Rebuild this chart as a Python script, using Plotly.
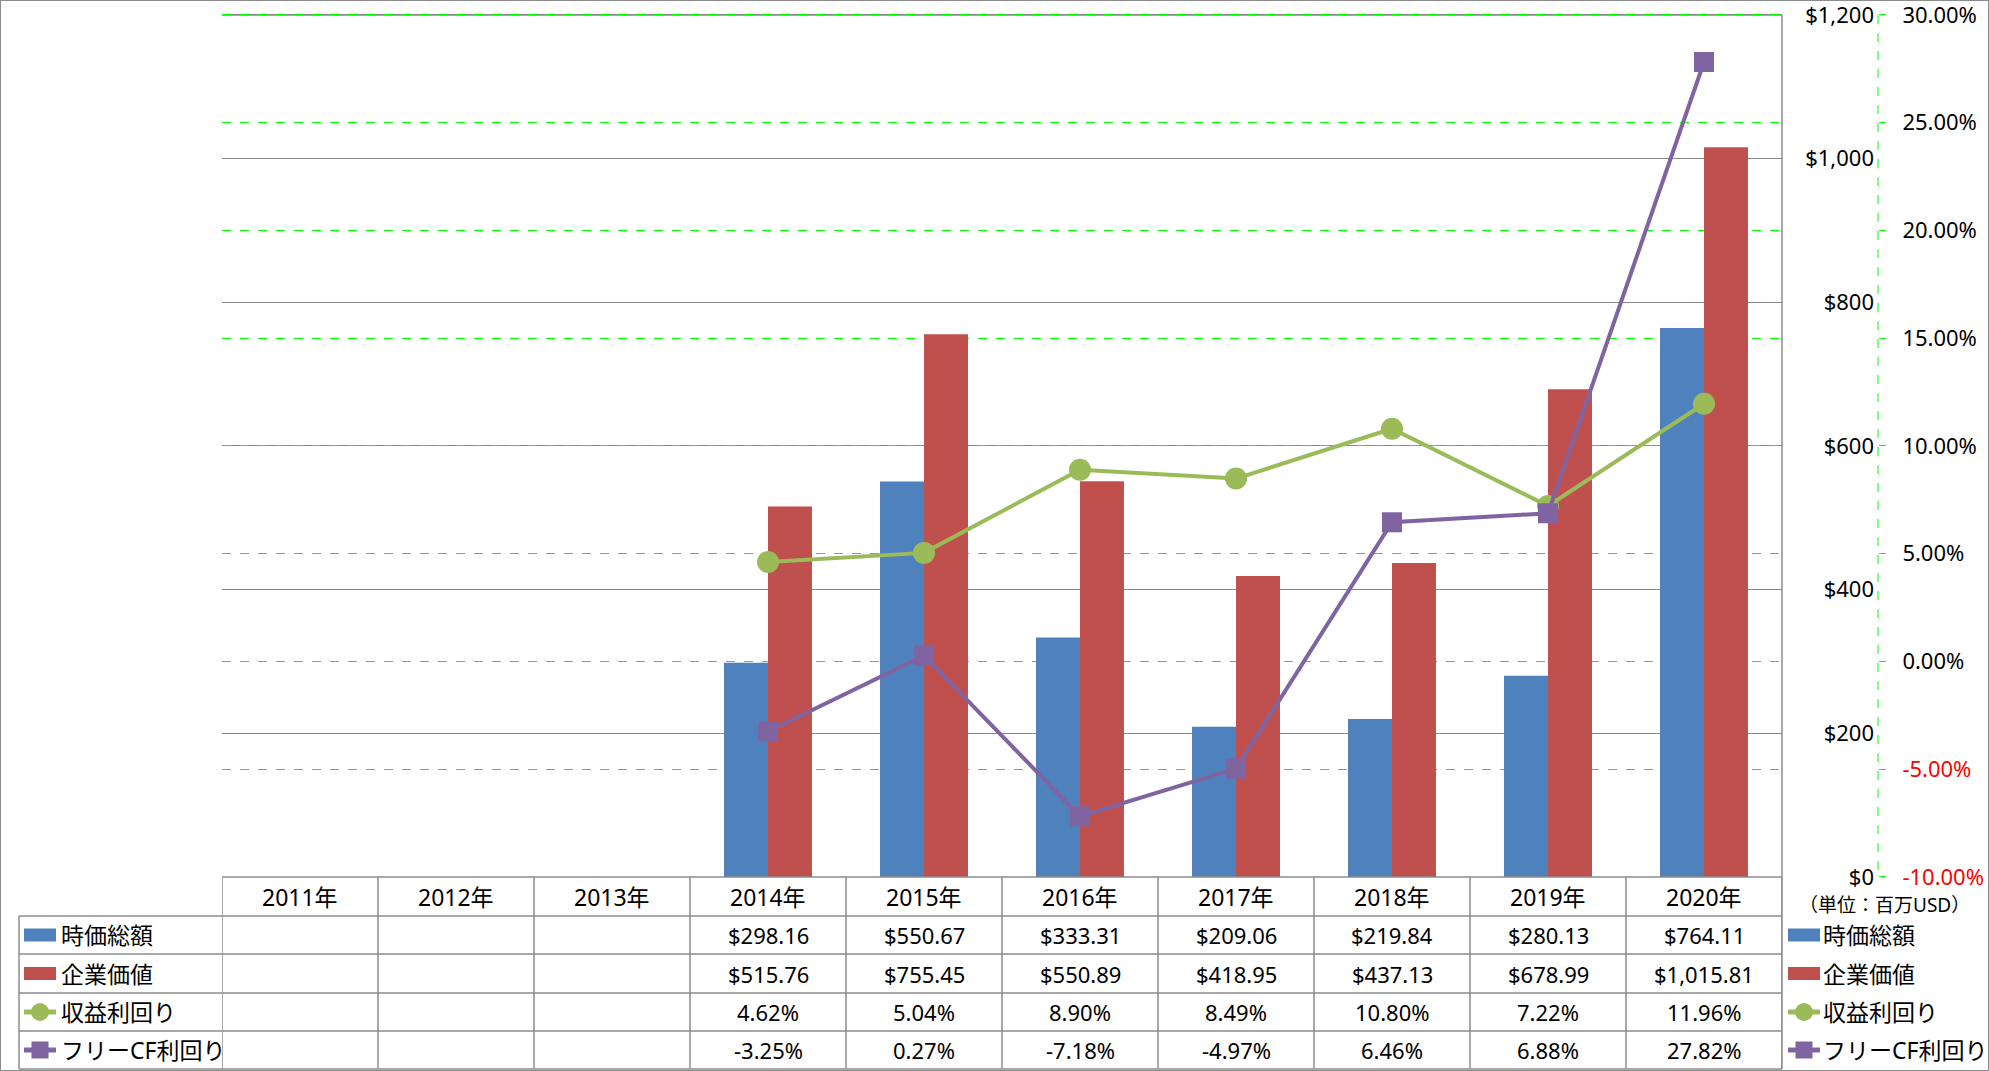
import plotly.graph_objects as go

# data
years = ["2011年", "2012年", "2013年", "2014年", "2015年", "2016年", "2017年", "2018年", "2019年", "2020年"]
market_cap = [None, None, None, 298.16, 550.67, 333.31, 209.06, 219.84, 280.13, 764.11]
enterprise_value = [None, None, None, 515.76, 755.45, 550.89, 418.95, 437.13, 678.99, 1015.81]
earnings_yield = [None, None, None, 4.62, 5.04, 8.90, 8.49, 10.80, 7.22, 11.96]
fcf_yield = [None, None, None, -3.25, 0.27, -7.18, -4.97, 6.46, 6.88, 27.82]

usd_ticks = [0, 200, 400, 600, 800, 1000, 1200]
pct_ticks = [-10, -5, 0, 5, 10, 15, 20, 25, 30]
unit_label = "（単位：百万USD）"

BLUE = "#4F81BD"
RED = "#C0504D"
GREEN = "#9BBB59"
PURPLE = "#8064A2"
GRID = "#888888"
LINE = "#8C8C8C"
FONT = "Noto Sans, Noto Sans CJK JP"

W, H = 1989, 1071


def px(x):
    return x / W


def py(y):
    return 1 - y / H


def money(v):
    return "" if v is None else f"${v:,.2f}"


def pct(v):
    return "" if v is None else f"{v:.2f}%"


def frac(vals):
    return [None if v is None else v / 100 for v in vals]


fig = go.Figure()
fig.add_bar(x=years, y=market_cap, name="時価総額", marker_color=BLUE, marker_line_width=0, yaxis="y")
fig.add_bar(x=years, y=enterprise_value, name="企業価値", marker_color=RED, marker_line_width=0, yaxis="y")
fig.add_scatter(x=years, y=frac(earnings_yield), name="収益利回り", yaxis="y2", mode="lines+markers",
                line=dict(color=GREEN, width=4), marker=dict(symbol="circle", size=22, color=GREEN))
fig.add_scatter(x=years, y=frac(fcf_yield), name="フリーCF利回り", yaxis="y2", mode="lines+markers",
                line=dict(color=PURPLE, width=4), marker=dict(symbol="square", size=20, color=PURPLE))

# plot area / table geometry in pixels
left_px, right_px = 222, 1782
top_px, bottom_px = 15, 877
row_lines = [877, 916, 954, 993, 1031, 1069]
axis_x = 1878

# the axes run a little past the top tick so the top grid line is kept
usd_top = 1210
pct_top = (pct_ticks[0] + (pct_ticks[-1] - pct_ticks[0]) * usd_top / usd_ticks[-1]) / 100
dom_top = bottom_px - (bottom_px - top_px) * usd_top / usd_ticks[-1]

shapes = []
annotations = []

# table grid
for i, yl in enumerate(row_lines):
    x0 = px(left_px) if i == 0 else px(19)
    shapes.append(dict(type="line", xref="paper", yref="paper", x0=x0, x1=px(right_px),
                       y0=py(yl), y1=py(yl), line=dict(color=LINE, width=1.5)))
for i in range(len(years) + 1):
    shapes.append(dict(type="line", xref="x", yref="paper", x0=i - 0.5, x1=i - 0.5,
                       y0=py(row_lines[0]), y1=py(row_lines[-1]), line=dict(color=LINE, width=1.5)))
shapes.append(dict(type="line", xref="paper", yref="paper", x0=px(19), x1=px(19),
                   y0=py(row_lines[1]), y1=py(row_lines[-1]), line=dict(color=LINE, width=1.5)))
# right axis line of plot area
shapes.append(dict(type="line", xref="paper", yref="paper", x0=px(right_px), x1=px(right_px),
                   y0=py(top_px), y1=py(row_lines[-1]), line=dict(color=LINE, width=1.5)))
# top grid line ($1,200) drawn solid gray like the others
shapes.append(dict(type="line", xref="paper", yref="y", x0=px(left_px), x1=px(right_px),
                   y0=usd_ticks[-1], y1=usd_ticks[-1], line=dict(color=GRID, width=1.5), layer="below"))
# secondary axis dashed line
shapes.append(dict(type="line", xref="paper", yref="paper", x0=px(axis_x), x1=px(axis_x),
                   y0=py(top_px), y1=py(bottom_px), line=dict(color="#00FF00", width=1, dash="dash")))
# outer frame
shapes.append(dict(type="rect", xref="paper", yref="paper", x0=0, x1=1, y0=0, y1=1,
                   line=dict(color="#8C8C8C", width=2)))


def cell(x, y, text, size=22, xref="x", xanchor="center"):
    annotations.append(dict(x=x, xref=xref, y=y, yref="paper", text=text, showarrow=False,
                            xanchor=xanchor, yanchor="middle", font=dict(size=size)))


# header row
hdr_y = (row_lines[0] + row_lines[1]) / 2
for yr in years:
    cell(yr, py(hdr_y), yr, 23)

rows = [
    ("時価総額", [money(v) for v in market_cap], "bar", BLUE),
    ("企業価値", [money(v) for v in enterprise_value], "bar", RED),
    ("収益利回り", [pct(v) for v in earnings_yield], "circle", GREEN),
    ("フリーCF利回り", [pct(v) for v in fcf_yield], "square", PURPLE),
]


def legend_icon(x0, yc, kind, color):
    x1 = x0 + 32
    if kind == "bar":
        shapes.append(dict(type="rect", xref="paper", yref="paper", x0=px(x0), x1=px(x1),
                           y0=py(yc + 6.5), y1=py(yc - 6.5), fillcolor=color, line=dict(width=0)))
    else:
        shapes.append(dict(type="line", xref="paper", yref="paper", x0=px(x0), x1=px(x1),
                           y0=py(yc), y1=py(yc), line=dict(color=color, width=5)))
        xc = (x0 + x1) / 2
        r = 9 if kind == "circle" else 8.5
        shapes.append(dict(type="circle" if kind == "circle" else "rect", xref="paper", yref="paper",
                           x0=px(xc - r), x1=px(xc + r), y0=py(yc + r), y1=py(yc - r),
                           fillcolor=color, line=dict(width=0)))


for k, (label, texts, kind, color) in enumerate(rows):
    yc = (row_lines[k + 1] + row_lines[k + 2]) / 2
    for yr, t in zip(years, texts):
        if t:
            cell(yr, py(yc), t, 22)
    legend_icon(24, yc, kind, color)
    cell(px(59), py(yc), label, 23, xref="paper", xanchor="left")
    legend_icon(1788, yc, kind, color)
    cell(px(1821), py(yc), label, 23, xref="paper", xanchor="left")

cell(px(1797), py(905), unit_label, 19, xref="paper", xanchor="left")

fig.update_layout(
    width=W, height=H,
    margin=dict(l=0, r=0, t=0, b=0, autoexpand=False),
    paper_bgcolor="white", plot_bgcolor="white",
    font=dict(family=FONT, size=22, color="black"),
    showlegend=False,
    barmode="group", bargap=0.436, bargroupgap=0,
    shapes=shapes,
    annotations=annotations,
    xaxis=dict(domain=[px(left_px), px(right_px)], range=[-0.5, len(years) - 0.5], showticklabels=False,
               showgrid=False, zeroline=False, showline=False, ticks="", automargin=False),
    yaxis=dict(domain=[py(bottom_px), py(dom_top)], range=[0, usd_top], anchor="free", position=px(axis_x),
               side="left", tickvals=usd_ticks, ticktext=[f"${v:,}" for v in usd_ticks],
               showgrid=True, gridcolor=GRID, gridwidth=1, zeroline=False, showline=False, ticks="",
               ticklabelstandoff=4, ticklabeloverflow="allow", automargin=False),
    yaxis2=dict(overlaying="y", range=[pct_ticks[0] / 100, pct_top], anchor="free", position=px(axis_x),
                side="right", tickvals=[v / 100 for v in pct_ticks],
                ticktext=[(f"<span style='color:red'>{v:.2f}%</span>" if v < 0 else f"{v:.2f}%")
                          for v in pct_ticks],
                showgrid=True, gridcolor="#00FF00", griddash="dash", gridwidth=1,
                zeroline=False, showline=False, ticks="outside", ticklen=7, tickcolor="#00FF00",
                ticklabelstandoff=12, ticklabeloverflow="allow", tickfont=dict(size=22), automargin=False),
)

fig.write_html("out.html", config={"displayModeBar": False},
               post_script="document.body.style.margin='0px';")
